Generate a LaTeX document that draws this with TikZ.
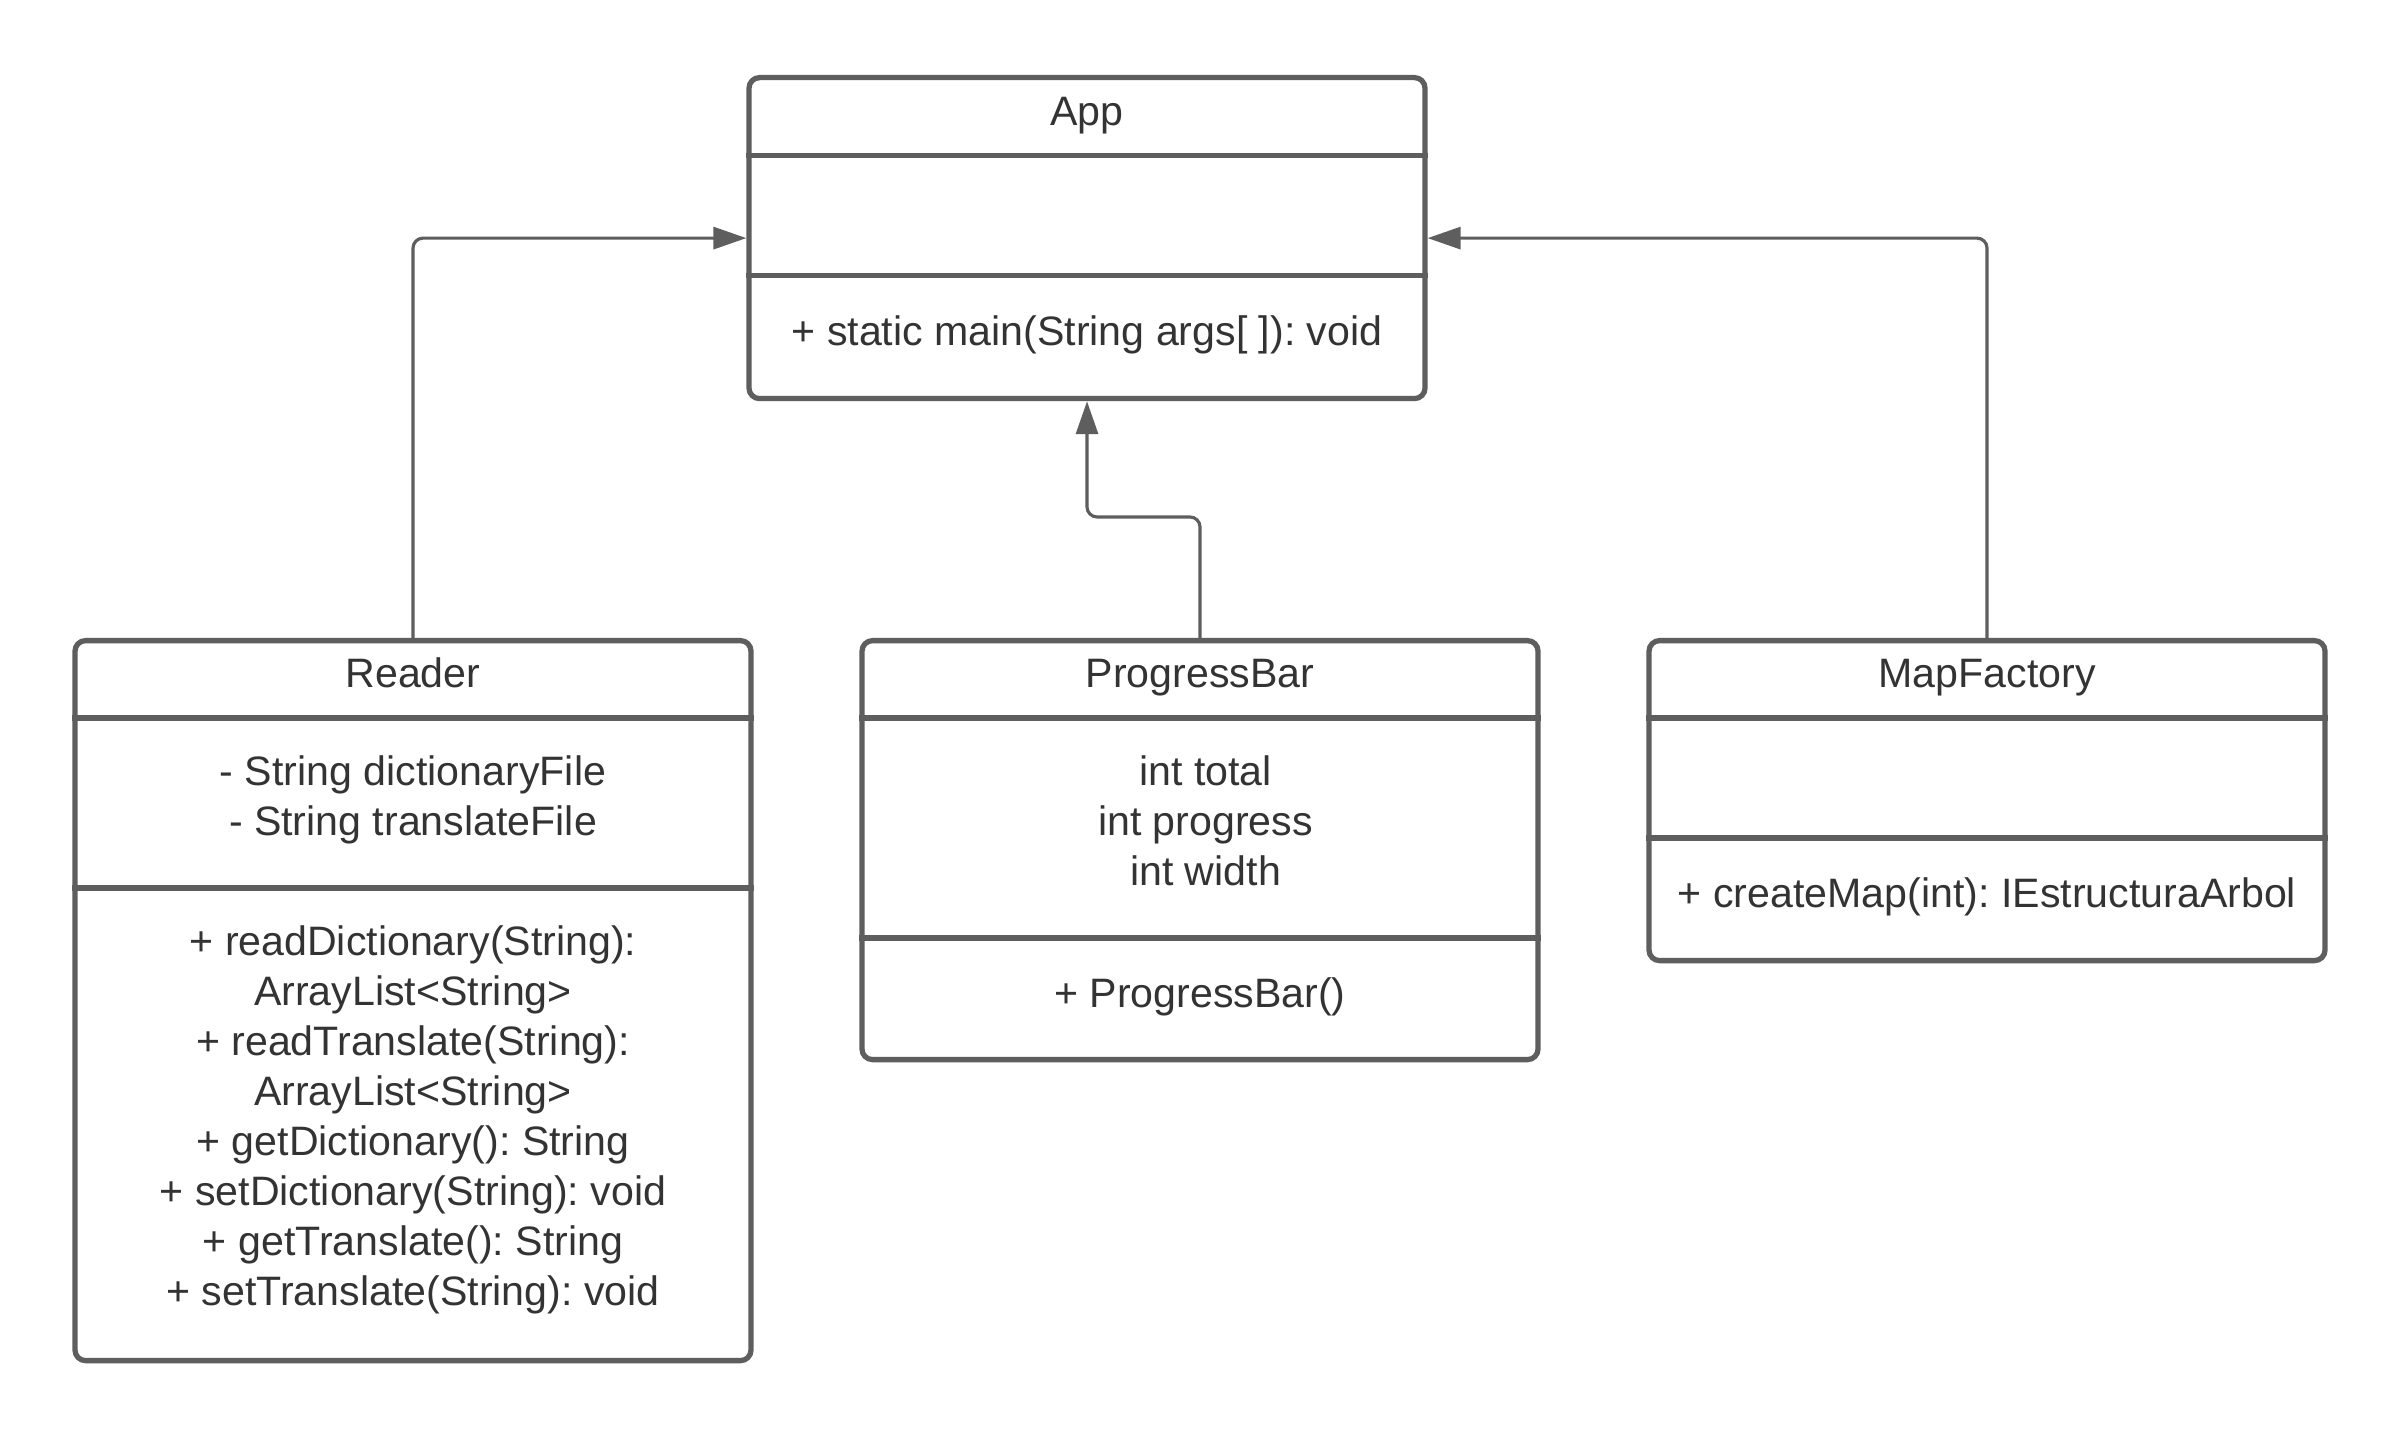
\documentclass[tikz,border=0pt]{standalone}
\usepackage{fontspec}
\setmainfont{Liberation Sans}
\usepackage{tikz}
\usetikzlibrary{arrows.meta,calc}
\frenchspacing

\definecolor{boxgray}{HTML}{5E5E5E}
\definecolor{textgray}{HTML}{333333}
\newcommand{\umlfont}{\fontsize{11.7pt}{14.23pt}\selectfont}

\tikzset{
  umlbox/.style={draw=boxgray, line width=1.5pt, rounded corners=3pt,
    minimum width=6.76cm, inner sep=0pt, anchor=north},
  umltext/.style={text=textgray, font=\umlfont, align=center, inner sep=0pt,
    execute at begin node=\strut, execute at end node=\strut},
  divider/.style={draw=boxgray, line width=1.5pt},
  inherit/.style={draw=boxgray, line width=0.9pt, rounded corners=0.1cm,
    -{Triangle[length=0.33cm, width=0.22cm]}}
}

\begin{document}
\begin{tikzpicture}
  \path[fill=white, use as bounding box] (0, 0) rectangle (24, 14.33);

  % classes
  \node[umlbox, minimum height=3.21cm] (app) at (10.87, 13.58) {};
  \node[umlbox, minimum height=7.20cm] (reader) at (4.13, 7.95) {};
  \node[umlbox, minimum height=4.19cm] (pbar) at (12.00, 7.95) {};
  \node[umlbox, minimum height=3.20cm] (mapf) at (19.87, 7.95) {};

  % compartments
  \draw[divider] (app.west |- 0, 12.775) -- (app.east |- 0, 12.775);
  \draw[divider] (app.west |- 0, 11.575) -- (app.east |- 0, 11.575);
  \draw[divider] (reader.west |- 0, 7.15) -- (reader.east |- 0, 7.15);
  \draw[divider] (reader.west |- 0, 5.45) -- (reader.east |- 0, 5.45);
  \draw[divider] (pbar.west |- 0, 7.15) -- (pbar.east |- 0, 7.15);
  \draw[divider] (pbar.west |- 0, 4.95) -- (pbar.east |- 0, 4.95);
  \draw[divider] (mapf.west |- 0, 7.15) -- (mapf.east |- 0, 7.15);
  \draw[divider] (mapf.west |- 0, 5.95) -- (mapf.east |- 0, 5.95);

  % texts
  \node[umltext] (app-name) at (10.87, 13.1775) {App};
  \node[umltext] (app-ops) at (10.87, 10.9725) {+ static main(String args[ ]): void};

  \node[umltext] (reader-name) at (4.13, 7.55) {Reader};
  \node[umltext] (reader-attrs) at (4.13, 6.30)
    {- String dictionaryFile\\- String translateFile};
  \node[umltext] (reader-ops) at (4.13, 3.10)
    {+ readDictionary(String):\\ArrayList<String>\\+ readTranslate(String):\\ArrayList<String>\\
     + getDictionary(): String\\+ setDictionary(String): void\\+ getTranslate(): String\\
     + setTranslate(String): void};

  \node[umltext] (pbar-name) at (12.00, 7.55) {ProgressBar};
  \node[umltext] (pbar-attrs) at (12.055, 6.05) {int total\\int progress\\int width};
  \node[umltext] (pbar-ops) at (12.00, 4.355) {+ ProgressBar()};

  \node[umltext] (mapf-name) at (19.87, 7.55) {MapFactory};
  \node[umltext] (mapf-ops) at (19.87, 5.35) {+ createMap(int): IEstructuraArbol};

  % connectors
  \coordinate (pbar-bend) at (10.87, 9.16);
  \draw[inherit] (reader.north) |- (app.west);
  \draw[inherit] (mapf.north) |- (app.east);
  \draw[inherit] (pbar.north) |- (pbar-bend) -- (app.south);
\end{tikzpicture}
\end{document}
